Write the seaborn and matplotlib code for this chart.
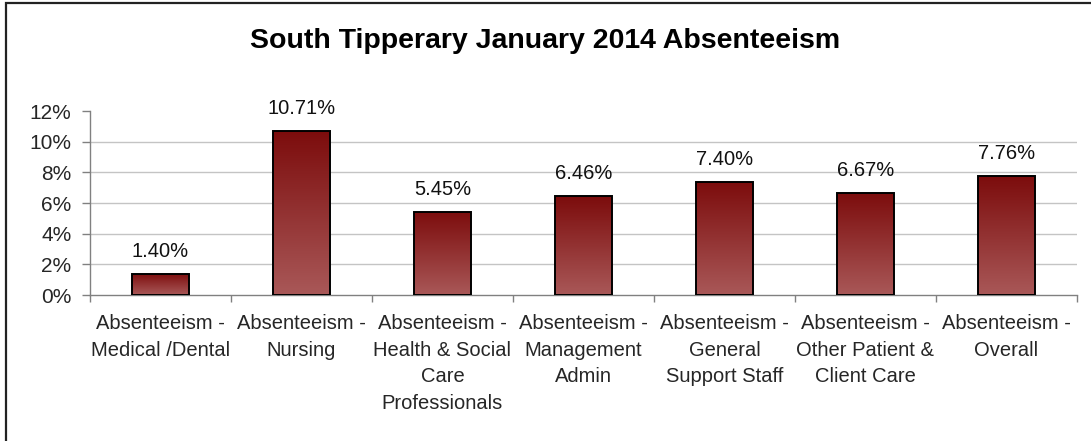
import numpy as np
import pandas as pd
import matplotlib
matplotlib.use("Agg")
import matplotlib.pyplot as plt
import seaborn as sns
from matplotlib.colors import LinearSegmentedColormap
from matplotlib.patches import Rectangle
from matplotlib.ticker import PercentFormatter, FixedLocator

# Absence rates by staff category (fraction of working time)
categories = [
    "Absenteeism -\nMedical /Dental",
    "Absenteeism -\nNursing",
    "Absenteeism -\nHealth & Social\nCare\nProfessionals",
    "Absenteeism -\nManagement\nAdmin",
    "Absenteeism -\nGeneral\nSupport Staff",
    "Absenteeism -\nOther Patient &\nClient Care",
    "Absenteeism -\nOverall",
]
rates = [0.0140, 0.1071, 0.0545, 0.0646, 0.0740, 0.0667, 0.0776]
y_ticks = [0.00, 0.02, 0.04, 0.06, 0.08, 0.10, 0.12]
title = "South Tipperary January 2014 Absenteeism"

df = pd.DataFrame({"category": categories, "rate": rates})

sns.set_style("white")
plt.rcParams["font.family"] = ["Liberation Sans", "DejaVu Sans"]

fig = plt.figure(figsize=(10.91, 4.41), dpi=100)
ax = fig.add_axes([0.0825, 0.331, 0.9045, 0.417])

sns.barplot(data=df, x="category", y="rate", color="#8b2020", width=0.40,
            edgecolor="black", linewidth=1.4, ax=ax, zorder=3)

# vertical gradient fill clipped to each bar
grad_cmap = LinearSegmentedColormap.from_list("bar_grad", ["#a95858", "#7c0c0c"])
grad = np.linspace(0, 1, 256).reshape(-1, 1)
for bar in ax.patches:
    x0, y0 = bar.get_x(), bar.get_y()
    w, h = bar.get_width(), bar.get_height()
    im = ax.imshow(grad, cmap=grad_cmap, origin="lower", aspect="auto",
                   extent=[x0, x0 + w, y0, y0 + h], zorder=2.5,
                   interpolation="bilinear")
    im.set_clip_path(bar)
    bar.set_facecolor("none")

ax.set_xlim(-0.5, len(categories) - 0.5)
ax.set_ylim(0, 0.12)

# value labels above bars
for i, v in enumerate(rates):
    ax.annotate(f"{v:.2%}", xy=(i, v), xytext=(0, 16), textcoords="offset points",
                ha="center", va="center", fontsize=14.5, color="#111111")

ax.yaxis.set_major_locator(FixedLocator(y_ticks))
ax.yaxis.set_major_formatter(PercentFormatter(1.0, decimals=0))
ax.tick_params(axis="y", which="major", direction="out", length=5.5, width=1,
               color="#808080", pad=8, labelsize=15, left=True)

# category boundaries carry the tick marks; labels sit at the centres
ax.set_xticks(np.arange(len(categories)))
ax.set_xticklabels(categories, linespacing=1.5)
ax.set_xticks(np.arange(len(categories) + 1) - 0.5, minor=True)
ax.tick_params(axis="x", which="major", length=0, pad=14, labelsize=14.5)
ax.tick_params(axis="x", which="minor", direction="out", length=5, width=1,
               color="#808080", bottom=True)

ax.set_xlabel("")
ax.set_ylabel("")

ax.set_axisbelow(True)
ax.yaxis.grid(True, color="#c4c4c4", linewidth=1)
gl = ax.yaxis.get_gridlines()
gl[0].set_visible(False)
gl[-1].set_visible(False)

for side in ("top", "right"):
    ax.spines[side].set_visible(False)
for side in ("left", "bottom"):
    ax.spines[side].set_color("#808080")
    ax.spines[side].set_linewidth(1)

fig.text(0.4995, 0.906, title, ha="center", va="center", fontsize=20.5,
         fontweight="bold", color="black")

# chart frame
frame = Rectangle((5.5 / 1091, -0.1), 1.2, 1.1 - 3.5 / 441, transform=fig.transFigure,
                  fill=False, edgecolor="#222222", linewidth=1.6, zorder=10)
fig.patches.append(frame)

fig.savefig("out.png", dpi=100, facecolor="white")
